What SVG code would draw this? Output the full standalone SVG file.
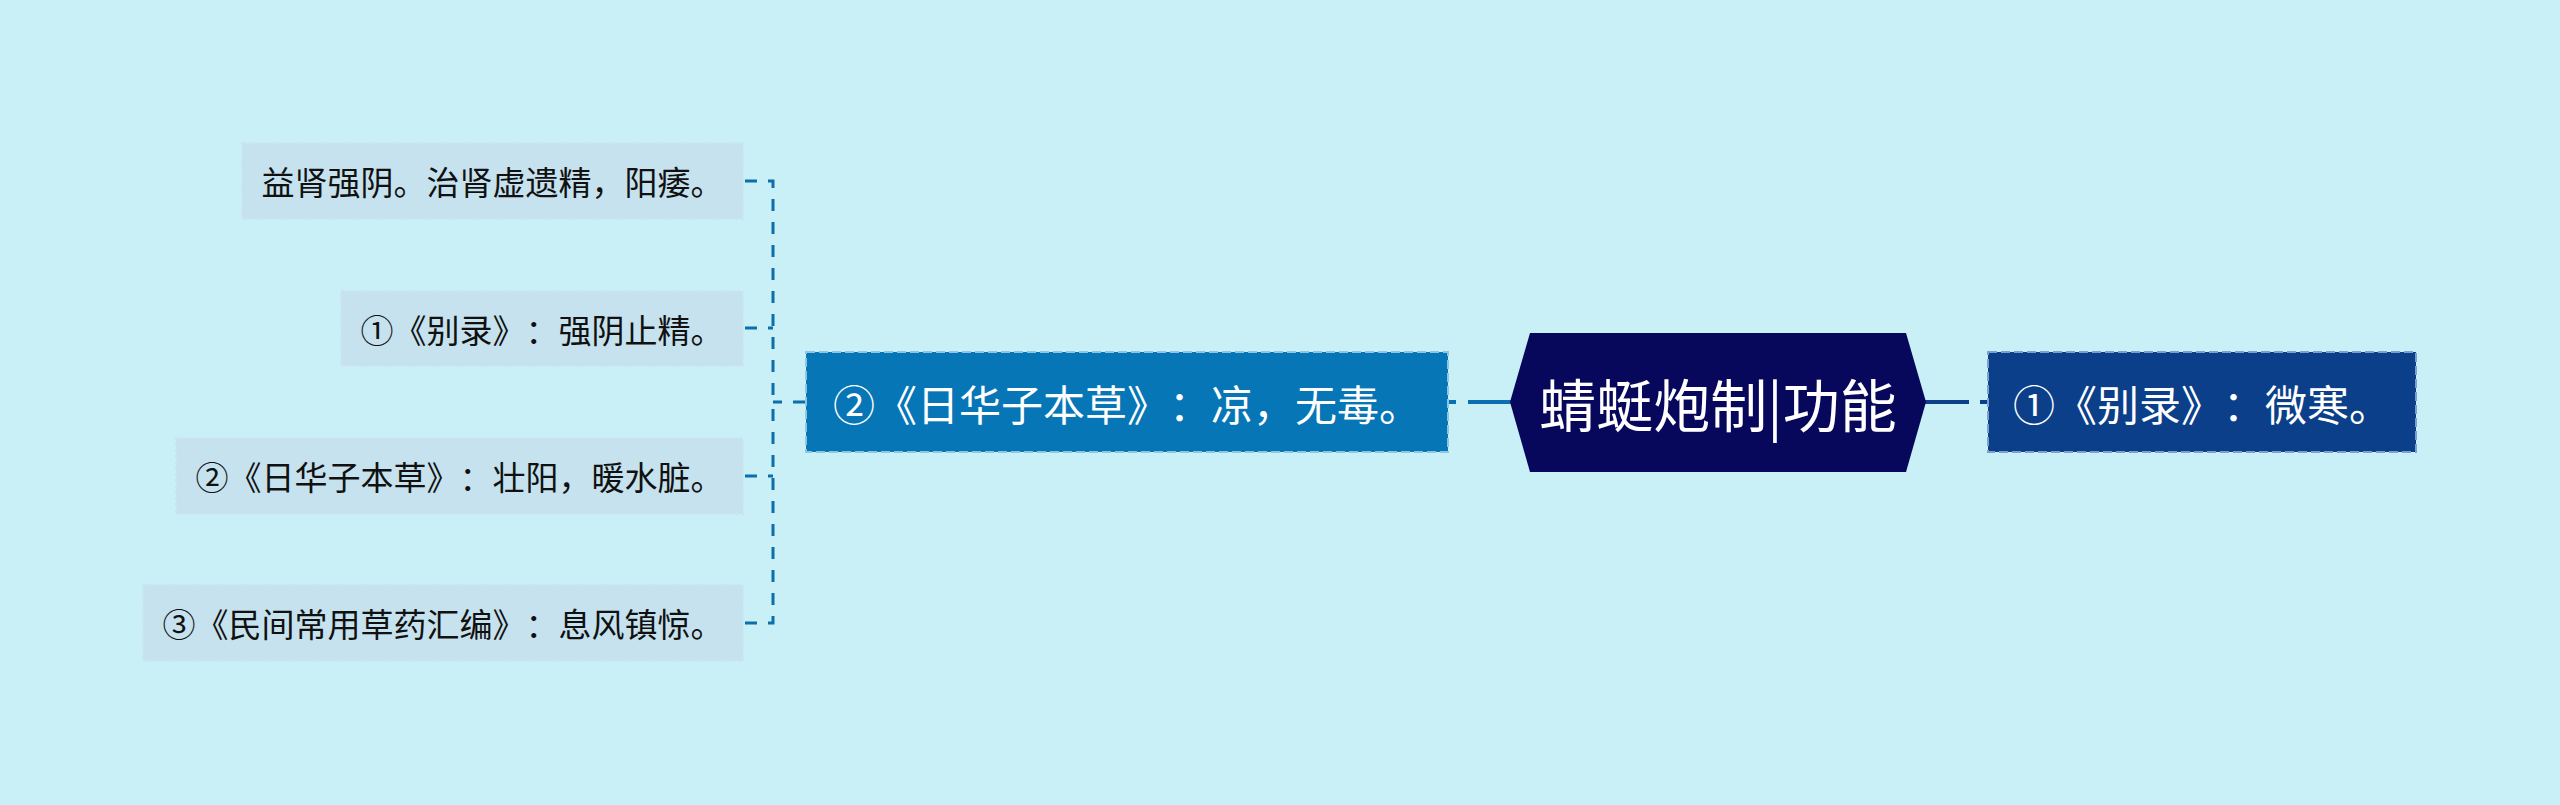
<svg xmlns="http://www.w3.org/2000/svg" width="2560" height="805" viewBox="0 0 2560 805">
<style>
.t{font-family:"Noto Sans CJK SC","Noto Sans",sans-serif;dominant-baseline:central;text-anchor:middle;text-spacing-trim:space-all}
.leaf rect{fill:#c5e2ee;stroke:#c9e6f0;stroke-width:2;stroke-dasharray:3 3}
.leaf text{fill:#111111;font-size:33px}
.sub text{fill:#ffffff;font-size:42px}
.br{fill:none;stroke:#0d6ea9;stroke-width:3;stroke-dasharray:12 11}
</style>
<rect width="2560" height="805" fill="#c9eff7"/>
<g id="connectors">
<path class="br" d="M745 181 H773 V402"/>
<path class="br" d="M745 328 H773"/>
<path class="br" d="M745 476 H773"/>
<path class="br" d="M745 623 H773 V402"/>
<path class="br" d="M805 402 H773"/>
<path d="M1448 402 H1456 M1468 402 H1512" stroke="#0b70b2" stroke-width="4" fill="none"/>
<path d="M1924 402 H1969 M1980 402 H1988" stroke="#0c3f88" stroke-width="4" fill="none"/>
</g>
<g id="center">
<polygon points="1510,402 1530,333 1906,333 1926,402 1906,472 1530,472" fill="#07085c"/>
<text class="t" x="1718" y="402" font-size="57" fill="#ffffff">蜻蜓炮制|功能</text>
</g>
<g id="right1" class="sub">
<rect x="1988" y="352" width="428" height="100" fill="#0b3f8a" stroke="#7d9fcf" stroke-width="2" stroke-dasharray="9 4"/>
<text class="t" x="2202" y="402">①《别录》：微寒。</text>
</g>
<g id="mid" class="sub">
<rect x="806" y="352" width="642" height="100" fill="#0676b6" stroke="#8cc6e2" stroke-width="2" stroke-dasharray="9 4"/>
<text class="t" x="1127" y="402">②《日华子本草》：凉，无毒。</text>
</g>
<g id="leaf1" class="leaf">
<rect x="242" y="143" width="501" height="76"/>
<text class="t" x="492.5" y="181">益肾强阴。治肾虚遗精，阳痿。</text>
</g>
<g id="leaf2" class="leaf">
<rect x="341" y="291" width="402" height="75"/>
<text class="t" x="542" y="328.5">①《别录》：强阴止精。</text>
</g>
<g id="leaf3" class="leaf">
<rect x="176" y="438" width="567" height="76"/>
<text class="t" x="459.5" y="476">②《日华子本草》：壮阳，暖水脏。</text>
</g>
<g id="leaf4" class="leaf">
<rect x="143" y="585" width="600" height="76"/>
<text class="t" x="443" y="623">③《民间常用草药汇编》：息风镇惊。</text>
</g>
</svg>
